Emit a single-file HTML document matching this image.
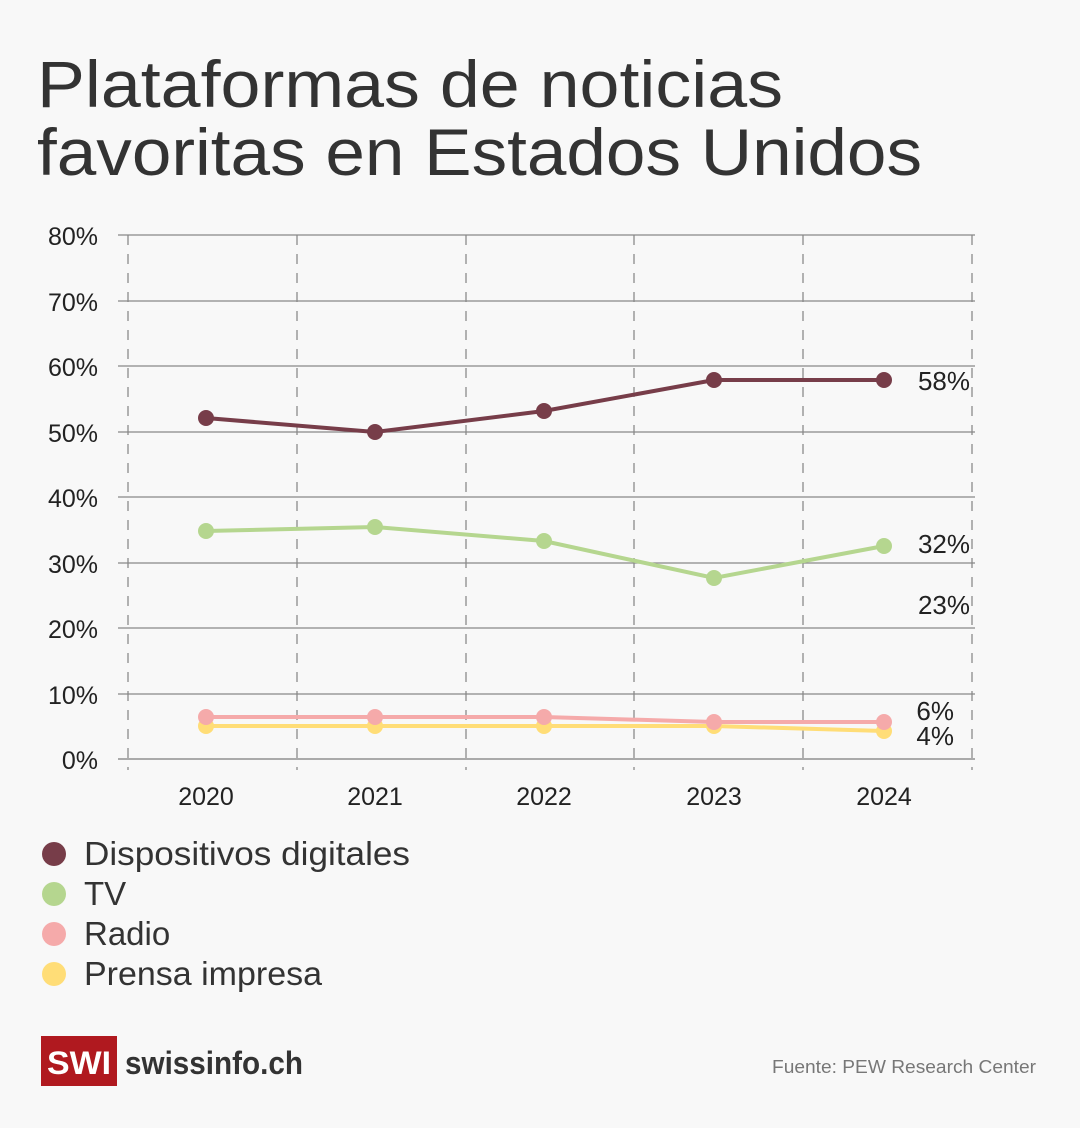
<!DOCTYPE html>
<html><head><meta charset="utf-8"><style>
body{margin:0;background:#f8f8f8;width:1080px;height:1123px;overflow:hidden;font-family:"Liberation Sans",sans-serif}
</style></head><body>
<svg width="1080" height="1123" xmlns="http://www.w3.org/2000/svg" font-family="Liberation Sans, sans-serif">
<rect width="1080" height="1123" fill="#f8f8f8"/>
<text x="37" y="107" font-size="66" fill="#333" textLength="746" lengthAdjust="spacingAndGlyphs">Plataformas de noticias</text>
<text x="37" y="175" font-size="66" fill="#333" textLength="885" lengthAdjust="spacingAndGlyphs">favoritas en Estados Unidos</text>
<g stroke="#999" stroke-width="1.5" stroke-dasharray="10,9">
<line x1="128" y1="235" x2="128" y2="770"/><line x1="297" y1="235" x2="297" y2="770"/><line x1="466" y1="235" x2="466" y2="770"/><line x1="634" y1="235" x2="634" y2="770"/><line x1="803" y1="235" x2="803" y2="770"/><line x1="972" y1="235" x2="972" y2="770"/>
</g>
<g stroke="#888" stroke-width="1.2">
<line x1="118" y1="235" x2="975" y2="235"/><line x1="118" y1="301" x2="975" y2="301"/><line x1="118" y1="366" x2="975" y2="366"/><line x1="118" y1="432" x2="975" y2="432"/><line x1="118" y1="497" x2="975" y2="497"/><line x1="118" y1="563" x2="975" y2="563"/><line x1="118" y1="628" x2="975" y2="628"/><line x1="118" y1="694" x2="975" y2="694"/>
</g>
<line x1="118" y1="759" x2="975" y2="759" stroke="#aaa" stroke-width="2"/>
<g font-size="25" fill="#222" text-anchor="end">
<text x="98" y="245">80%</text><text x="98" y="311">70%</text><text x="98" y="376">60%</text><text x="98" y="442">50%</text><text x="98" y="507">40%</text><text x="98" y="573">30%</text><text x="98" y="638">20%</text><text x="98" y="704">10%</text><text x="98" y="769">0%</text>
</g>
<g font-size="25" fill="#222" text-anchor="middle">
<text x="206" y="805">2020</text><text x="375" y="805">2021</text><text x="544" y="805">2022</text><text x="714" y="805">2023</text><text x="884" y="805">2024</text>
</g>
<g fill="none" stroke-width="4">
<polyline stroke="#ffdd77" points="206,726 375,726 544,726 714,726 884,731"/>
<polyline stroke="#f5aaaa" points="206,717 375,717 544,717 714,722 884,722"/>
<polyline stroke="#b5d68f" points="206,531 375,527 544,541 714,578 884,546"/>
<polyline stroke="#773d49" points="206,418 375,432 544,411 714,380 884,380"/>
</g>
<g fill="#ffdd77"><circle cx="206" cy="726" r="8"/><circle cx="375" cy="726" r="8"/><circle cx="544" cy="726" r="8"/><circle cx="714" cy="726" r="8"/><circle cx="884" cy="731" r="8"/></g>
<g fill="#f5aaaa"><circle cx="206" cy="717" r="8"/><circle cx="375" cy="717" r="8"/><circle cx="544" cy="717" r="8"/><circle cx="714" cy="722" r="8"/><circle cx="884" cy="722" r="8"/></g>
<g fill="#b5d68f"><circle cx="206" cy="531" r="8"/><circle cx="375" cy="527" r="8"/><circle cx="544" cy="541" r="8"/><circle cx="714" cy="578" r="8"/><circle cx="884" cy="546" r="8"/></g>
<g fill="#773d49"><circle cx="206" cy="418" r="8"/><circle cx="375" cy="432" r="8"/><circle cx="544" cy="411" r="8"/><circle cx="714" cy="380" r="8"/><circle cx="884" cy="380" r="8"/></g>
<g font-size="26" fill="#222" text-anchor="end">
<text x="970" y="390">58%</text><text x="970" y="553">32%</text><text x="970" y="614">23%</text><text x="954" y="720">6%</text><text x="954" y="745">4%</text>
</g>
<g font-size="33" fill="#333">
<circle cx="54" cy="854" r="12" fill="#773d49"/><text x="84" y="865" textLength="326" lengthAdjust="spacingAndGlyphs">Dispositivos digitales</text>
<circle cx="54" cy="894" r="12" fill="#b5d68f"/><text x="84" y="905">TV</text>
<circle cx="54" cy="934" r="12" fill="#f5aaaa"/><text x="84" y="945">Radio</text>
<circle cx="54" cy="974" r="12" fill="#ffdd77"/><text x="84" y="985" textLength="238" lengthAdjust="spacingAndGlyphs">Prensa impresa</text>
</g>
<rect x="41" y="1036" width="76" height="50" fill="#b0191f"/>
<text x="79" y="1074" font-size="32" font-weight="bold" fill="#fff" text-anchor="middle" textLength="64" lengthAdjust="spacingAndGlyphs">SWI</text>
<text x="125" y="1074" font-size="32" font-weight="bold" fill="#333" textLength="178" lengthAdjust="spacingAndGlyphs">swissinfo.ch</text>
<text x="1036" y="1073" font-size="18" fill="#777" text-anchor="end" textLength="264" lengthAdjust="spacingAndGlyphs">Fuente: PEW Research Center</text>
</svg>
</body></html>
